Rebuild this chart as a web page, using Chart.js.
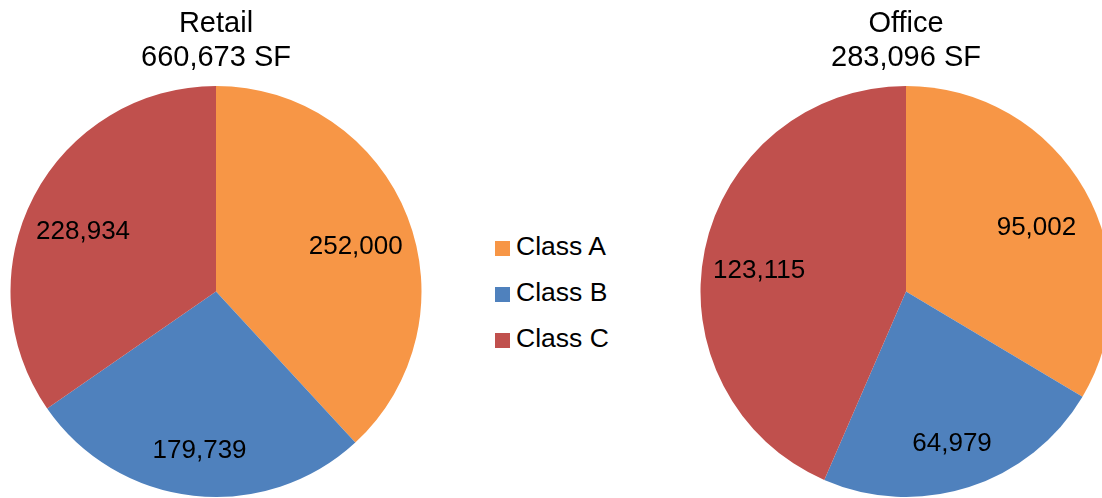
<!DOCTYPE html>
<html>
<head>
<meta charset="utf-8">
<script src="https://cdn.jsdelivr.net/npm/chart.js@4"></script>
<style>
  html, body { margin: 0; padding: 0; background: #fff; overflow: hidden; }
  #wrap { position: relative; width: 1102px; height: 498px; overflow: hidden; }
  .pie { position: absolute; top: 0; width: 432px; height: 498px; }
  #legend { position: absolute; left: 495px; top: 223px; font-family: "Liberation Sans", Arial, sans-serif; font-size: 26.5px; color: #000; }
  #legend div { height: 46px; line-height: 46px; white-space: nowrap; }
  #legend span.box { display: inline-block; width: 15px; height: 15px; margin-right: 6px; vertical-align: -1px; }
</style>
</head>
<body>
<div id="wrap">
  <div class="pie" style="left:0px"><canvas id="retailChart"></canvas></div>
  <div id="legend"></div>
  <div class="pie" style="left:690px"><canvas id="officeChart"></canvas></div>
</div>
<script>
// data
var classes = ["Class A", "Class B", "Class C"];
var classColors = ["#F79646", "#4F81BD", "#C0504D"];
var retailValues = [252000, 179739, 228934];
var officeValues = [95002, 64979, 123115];
var retailTitle = ["Retail", "660,673 SF"];
var officeTitle = ["Office", "283,096 SF"];

var fontFamily = "'Liberation Sans', Arial, sans-serif";

// draw the value labels inside the slices
var sliceLabels = {
  id: "sliceLabels",
  afterDatasetsDraw: function (chart) {
    var ctx = chart.ctx;
    var meta = chart.getDatasetMeta(0);
    ctx.save();
    ctx.fillStyle = "#000";
    ctx.font = "26px " + fontFamily;
    ctx.textAlign = "center";
    ctx.textBaseline = "middle";
    meta.data.forEach(function (arc, i) {
      var p = arc.getProps(["x", "y", "startAngle", "endAngle", "outerRadius"], true);
      var mid = (p.startAngle + p.endAngle) / 2;
      var r = p.outerRadius * 0.73;
      var x = p.x + Math.cos(mid) * r;
      var y = p.y + Math.sin(mid) * r + 10;
      ctx.fillText(chart.data.datasets[0].data[i].toLocaleString("en-US"), x, y);
    });
    ctx.restore();
  }
};

function makePie(id, values, title) {
  var ctx = document.getElementById(id).getContext("2d");
  return new Chart(ctx, {
    type: "pie",
    data: {
      labels: classes,
      datasets: [{
        data: values,
        backgroundColor: classColors,
        borderWidth: 0
      }]
    },
    options: {
      responsive: true,
      maintainAspectRatio: false,
      animation: false,
      layout: { padding: { left: 10.5, right: 10.5, top: 0, bottom: 1 } },
      plugins: {
        legend: { display: false },
        tooltip: { enabled: false },
        title: {
          display: true,
          text: title,
          color: "#000",
          font: { family: fontFamily, size: 29, weight: "normal", lineHeight: 1.17 },
          padding: { top: 7, bottom: 11 }
        }
      }
    },
    plugins: [sliceLabels]
  });
}

makePie("retailChart", retailValues, retailTitle);
makePie("officeChart", officeValues, officeTitle);

// legend
var legend = document.getElementById("legend");
classes.forEach(function (name, i) {
  var row = document.createElement("div");
  row.innerHTML = '<span class="box" style="background:' + classColors[i] + '"></span>' + name;
  legend.appendChild(row);
});
</script>
</body>
</html>
